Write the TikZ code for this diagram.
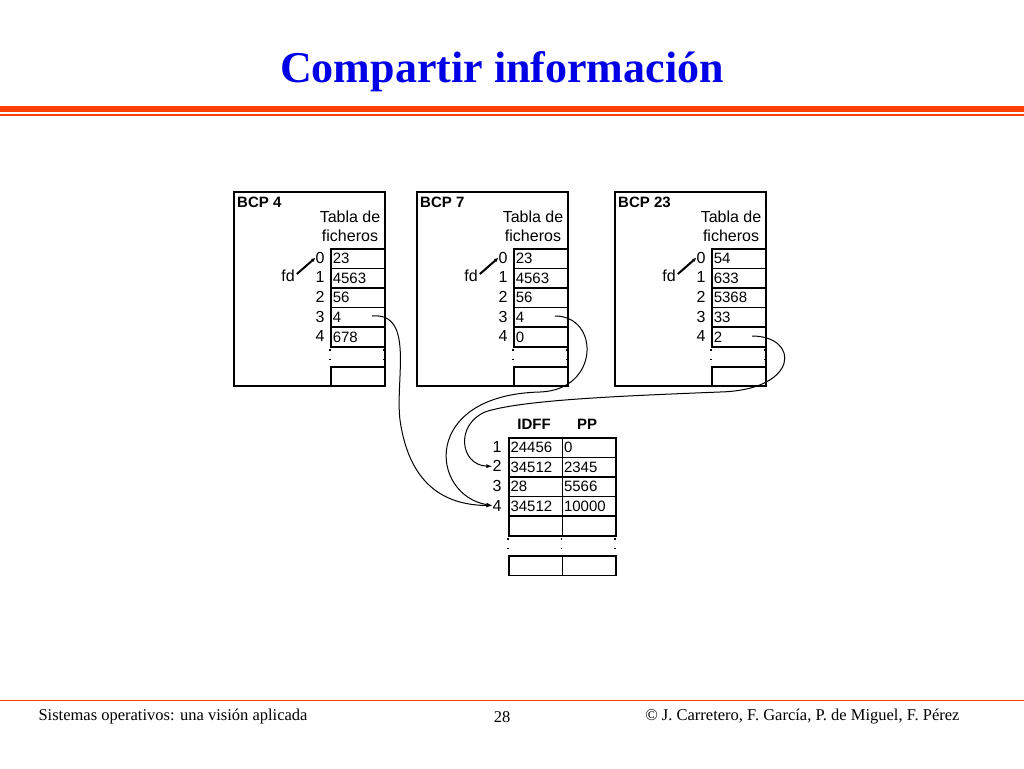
\documentclass[tikz,border=0pt]{standalone}
\usepackage{fontspec}
\setmainfont{Liberation Sans}
\newfontfamily\tms{Liberation Serif}
\usetikzlibrary{arrows.meta}
\definecolor{rule}{RGB}{255,64,0}
\begin{document}
\begin{tikzpicture}[x=1pt,y=-1pt,
  cell/.style={draw,line width=1.6pt,minimum width=54pt,minimum height=19.6pt,inner sep=1.5pt,anchor=north west,text width=50pt,align=left,font=\fontsize{15}{15}\selectfont},
  lbl/.style={font=\fontsize{16}{16}\selectfont,inner sep=0pt},
  bold/.style={font=\bfseries\fontsize{15}{15}\selectfont,inner sep=0pt},
  dts/.style={line width=1.8pt,dash pattern=on 1.5pt off 8pt},
  con/.style={line width=1pt,-{Latex[length=6pt,width=4pt]}}]
\useasboundingbox (0,0) rectangle (1024,768);
\node[font=\tms\bfseries\fontsize{44}{44}\selectfont,text={rgb,255:red,0;green,0;blue,230}] (title) at (502,72) {Compartir información};
\fill[rule] (0,106) rectangle (1024,111.5);
\fill[rule] (0,114) rectangle (1024,116);
\draw[rule,line width=0.8pt] (0,700) -- (1024,700);
\node[font=\tms\fontsize{16.5}{16.5}\selectfont,anchor=west] (f1) at (35,717) {Sistemas operativos: una visión aplicada};
\node[font=\tms\fontsize{16.5}{16.5}\selectfont] (f2) at (502,717) {28};
\node[font=\tms\fontsize{16.5}{16.5}\selectfont,anchor=east] (f3) at (963,717) {© J. Carretero, F. García, P. de Miguel, F. Pérez};
% BCP boxes
\foreach \bx/\name/\va/\vb/\vc/\vd/\ve/\id in {234/BCP 4/23/4563/56/4/678/a,417/BCP 7/23/4563/56/4/0/b,615/BCP 23/54/633/5368/33/2/c}{
  \draw[line width=2pt] (\bx,192) rectangle ++(151,194);
  \node[bold,anchor=north west] (h\id) at (\bx+3,197) {\name};
  \node[lbl,align=center,anchor=north] (t\id) at (\bx+116,211) {Tabla de\\[3pt]ficheros};
  \node[cell] (\id0) at (\bx+96,248) {\va};
  \node[cell] (\id1) at (\bx+96,267.6) {\vb};
  \node[cell] (\id2) at (\bx+96,287.2) {\vc};
  \node[cell] (\id3) at (\bx+96,306.8) {\vd};
  \node[cell] (\id4) at (\bx+96,326.4) {\ve};
  \node[cell] (\id5) at (\bx+96,366) {};
  \draw[dts] (\bx+96,349) -- (\bx+96,366) (\bx+150,349) -- (\bx+150,366);
  \foreach \r in {0,...,4}{\node[lbl] (l\id\r) at ({\bx+86},{257.8+19.6*\r}) {\r};}
  \node[lbl] (fd\id) at (\bx+54,276) {fd};
  \draw[line width=2pt,-{Latex[length=4pt,width=4pt]}] (fd\id.east) ++(2,-2) -- (l\id0.west);
}
% IDFF table
\node[bold] (idff) at (534,424) {IDFF};
\node[bold] (pp) at (587,424) {PP};
\foreach \r/\u/\v in {0/24456/0,1/34512/2345,2/28/5566,3/34512/10000,4//}{
  \node[cell,minimum width=53.5pt,text width=50pt] (i\r) at ({508},{437+19.6*\r}) {\u};
  \node[cell,minimum width=53.5pt,text width=50pt] (p\r) at ({561.5},{437+19.6*\r}) {\v};
}
\foreach \r in {1,...,4}{\node[lbl] (n\r) at ({497},{427.2+19.6*\r}) {\r};}
\node[cell,minimum width=53.5pt] (i5) at (508,555) {};
\node[cell,minimum width=53.5pt] (p5) at (561.5,555) {};
\draw[dts] (508,538) -- (508,555) (561.5,538) -- (561.5,555) (615,538) -- (615,555);
% connectors
\coordinate (sa) at (372,316);
\coordinate (sb) at (555,316);
\coordinate (sc) at (752,336);
\draw[con] (sa) .. controls (415,312) and (395,380) .. (400,420) .. controls (410,490) and (450,505) .. (n4.west);
\draw[con] (sb) .. controls (600,316) and (600,390) .. (540,392) .. controls (420,395) and (430,495) .. (n4.west);
\draw[con] (sc) .. controls (800,336) and (800,390) .. (720,392) .. controls (620,396) and (520,400) .. (485,412) .. controls (455,425) and (460,465) .. (n2.west);
\end{tikzpicture}
\end{document}
